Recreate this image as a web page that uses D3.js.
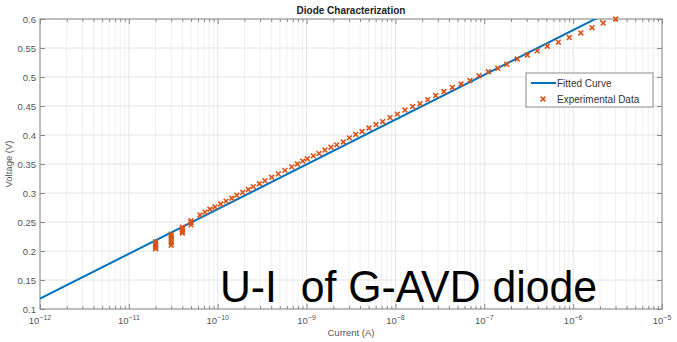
<!DOCTYPE html>
<html>
<head>
<meta charset="utf-8">
<script src="https://cdn.jsdelivr.net/npm/d3@7"></script>
<style>
  html, body { margin: 0; padding: 0; background: #fff; }
  svg { display: block; }
  text { font-family: "Liberation Sans", Arial, sans-serif; }
</style>
</head>
<body>
<svg id="chart" width="677" height="342"></svg>
<script>
// ---------- data ----------
const chartTitle = "Diode Characterization";
const xLabel = "Current (A)";
const yLabel = "Voltage (V)";
const overlayText = "U-I  of G-AVD diode";
const seriesNames = ["Fitted Curve", "Experimental Data"];

const xTickExponents = [-12, -11, -10, -9, -8, -7, -6, -5];
const yTickValues = [0.1, 0.15, 0.2, 0.25, 0.3, 0.35, 0.4, 0.45, 0.5, 0.55, 0.6];

// fitted curve (straight line on semilog axes)
const fitCurrent = [1e-12, 1e-5];
const fitVoltage = [0.118, 0.658];

// experimental data
const expCurrent = [
  2e-11, 2e-11, 2e-11, 2e-11, 2e-11,
  3e-11, 3e-11, 3e-11, 3e-11, 3e-11, 3e-11,
  4e-11, 4e-11, 4e-11, 4e-11,
  5e-11, 5e-11, 5e-11,
  6.32e-11, 7.19e-11, 8.18e-11, 9.31e-11, 1.08e-10, 1.24e-10, 1.44e-10, 1.64e-10,
  1.91e-10, 2.21e-10, 2.51e-10, 2.94e-10, 3.40e-10, 4.05e-10, 4.81e-10, 5.71e-10,
  6.81e-10, 7.87e-10,
  9.04e-10, 1.02e-9, 1.19e-9, 1.38e-9, 1.61e-9, 1.88e-9, 2.18e-9, 2.59e-9, 3.03e-9,
  3.57e-9, 4.21e-9, 5.04e-9, 6.04e-9, 7.19e-9, 8.69e-9, 1.05e-8, 1.28e-8,
  1.56e-8, 1.89e-8, 2.31e-8, 2.84e-8, 3.52e-8, 4.37e-8, 5.47e-8, 6.90e-8, 8.71e-8,
  1.11e-7, 1.42e-7, 1.79e-7, 2.35e-7, 3.05e-7, 3.94e-7, 5.12e-7, 6.81e-7, 9.04e-7,
  1.22e-6, 1.63e-6, 2.18e-6, 3.01e-6
];
const expVoltage = [
  0.204, 0.207, 0.210, 0.213, 0.216,
  0.210, 0.214, 0.218, 0.222, 0.226, 0.229,
  0.231, 0.234, 0.238, 0.241,
  0.245, 0.249, 0.252,
  0.262, 0.267, 0.272, 0.276, 0.281, 0.286, 0.291, 0.296,
  0.301, 0.306, 0.311, 0.316, 0.321, 0.327, 0.333, 0.339,
  0.345, 0.350,
  0.355, 0.359, 0.364, 0.368, 0.374, 0.379, 0.383, 0.388, 0.395,
  0.401, 0.406, 0.412, 0.418, 0.423, 0.430, 0.436, 0.443,
  0.449, 0.454, 0.461, 0.468, 0.475, 0.482, 0.488, 0.494, 0.502,
  0.509, 0.515, 0.522, 0.531, 0.538, 0.545, 0.553, 0.560, 0.568,
  0.576, 0.585, 0.593, 0.600
];

// ---------- layout ----------
const W = 677, H = 342;
const plot = { left: 40, right: 662, top: 19, bottom: 309 };
const blue = "#0072BD", orange = "#D95319";
const axisColor = "#8a8a8a", tickTextColor = "#555", gridColor = "#e4e4e4";

const svg = d3.select("#chart");

const x = d3.scaleLog()
  .domain([Math.pow(10, xTickExponents[0]), Math.pow(10, xTickExponents[xTickExponents.length - 1])])
  .range([plot.left, plot.right]);
const y = d3.scaleLinear()
  .domain([yTickValues[0], yTickValues[yTickValues.length - 1]])
  .range([plot.bottom, plot.top]);

svg.append("defs").append("clipPath").attr("id", "clip")
  .append("rect")
  .attr("x", plot.left).attr("y", plot.top)
  .attr("width", plot.right - plot.left).attr("height", plot.bottom - plot.top);

// minor tick values (2..9 per decade)
const minorVals = [];
for (let i = 0; i < xTickExponents.length - 1; i++) {
  for (let m = 2; m <= 9; m++) minorVals.push(m * Math.pow(10, xTickExponents[i]));
}
const majorVals = xTickExponents.map(e => Math.pow(10, e));

// ---------- grid ----------
const grid = svg.append("g");
grid.selectAll("line.vminor").data(minorVals).join("line")
  .attr("x1", d => x(d)).attr("x2", d => x(d))
  .attr("y1", plot.top).attr("y2", plot.bottom)
  .attr("stroke", "#efefef").attr("stroke-width", 1);
grid.selectAll("line.vmajor").data(majorVals).join("line")
  .attr("x1", d => x(d)).attr("x2", d => x(d))
  .attr("y1", plot.top).attr("y2", plot.bottom)
  .attr("stroke", gridColor).attr("stroke-width", 1);
grid.selectAll("line.h").data(yTickValues).join("line")
  .attr("x1", plot.left).attr("x2", plot.right)
  .attr("y1", d => y(d)).attr("y2", d => y(d))
  .attr("stroke", gridColor).attr("stroke-width", 1);

// ---------- axes (ticks inside, MATLAB style) ----------
const tickFmtX = () => "";
function styleAxis(g) {
  g.select(".domain").remove();
  g.selectAll(".tick line").attr("stroke", axisColor);
}
// bottom major
svg.append("g").attr("transform", `translate(0,${plot.bottom})`)
  .call(d3.axisBottom(x).tickValues(majorVals).tickSize(-5).tickFormat(tickFmtX))
  .call(styleAxis);
svg.append("g").attr("transform", `translate(0,${plot.bottom})`)
  .call(d3.axisBottom(x).tickValues(minorVals).tickSize(-3).tickFormat(tickFmtX))
  .call(styleAxis);
// top
svg.append("g").attr("transform", `translate(0,${plot.top})`)
  .call(d3.axisTop(x).tickValues(majorVals).tickSize(-5).tickFormat(tickFmtX))
  .call(styleAxis);
svg.append("g").attr("transform", `translate(0,${plot.top})`)
  .call(d3.axisTop(x).tickValues(minorVals).tickSize(-3).tickFormat(tickFmtX))
  .call(styleAxis);
// left
const yLeft = svg.append("g").attr("transform", `translate(${plot.left},0)`)
  .call(d3.axisLeft(y).tickValues(yTickValues).tickSize(-5).tickPadding(4)
    .tickFormat(d => d3.format("~g")(d)))
  .call(styleAxis);
yLeft.selectAll(".tick text")
  .attr("fill", tickTextColor).attr("font-size", 9.5)
  .attr("font-family", "Liberation Sans, Arial, sans-serif");
// right
svg.append("g").attr("transform", `translate(${plot.right},0)`)
  .call(d3.axisRight(y).tickValues(yTickValues).tickSize(-5).tickFormat(() => ""))
  .call(styleAxis);

// x tick labels with superscripts
const xl = svg.append("g");
xTickExponents.forEach(e => {
  const t = xl.append("text")
    .attr("x", x(Math.pow(10, e))).attr("y", 324)
    .attr("text-anchor", "middle")
    .attr("fill", tickTextColor).attr("font-size", 9.5);
  t.append("tspan").text("10");
  t.append("tspan").attr("dy", -4).attr("font-size", 7).text(String(e).replace("-", "\u2212"));
});

// box
svg.append("rect")
  .attr("x", plot.left).attr("y", plot.top)
  .attr("width", plot.right - plot.left).attr("height", plot.bottom - plot.top)
  .attr("fill", "none").attr("stroke", axisColor).attr("stroke-width", 1);

// ---------- series ----------
const fitData = fitCurrent.map((c, i) => [c, fitVoltage[i]]);
svg.append("path")
  .attr("clip-path", "url(#clip)")
  .datum(fitData)
  .attr("d", d3.line().x(d => x(d[0])).y(d => y(d[1])))
  .attr("fill", "none").attr("stroke", blue).attr("stroke-width", 2);

const expData = expCurrent.map((c, i) => [c, expVoltage[i]]);
const ms = 2.4;
const marks = svg.append("g").attr("stroke", orange).attr("stroke-width", 1.6);
marks.selectAll("path").data(expData).join("path")
  .attr("d", d => {
    const cx = x(d[0]), cy = y(d[1]);
    return `M${cx - ms},${cy - ms}L${cx + ms},${cy + ms}M${cx - ms},${cy + ms}L${cx + ms},${cy - ms}`;
  });

// ---------- legend ----------
const lg = svg.append("g");
lg.append("rect").attr("x", 526).attr("y", 73).attr("width", 127).attr("height", 34)
  .attr("fill", "#fff").attr("stroke", axisColor).attr("stroke-width", 1);
lg.append("line").attr("x1", 531).attr("x2", 556).attr("y1", 83).attr("y2", 83)
  .attr("stroke", blue).attr("stroke-width", 2);
lg.append("text").attr("x", 557).attr("y", 87).attr("font-size", 10).attr("fill", "#333").text(seriesNames[0]);
lg.append("path")
  .attr("d", `M${543 - ms},${99 - ms}L${543 + ms},${99 + ms}M${543 - ms},${99 + ms}L${543 + ms},${99 - ms}`)
  .attr("stroke", orange).attr("stroke-width", 1.6);
lg.append("text").attr("x", 557).attr("y", 103).attr("font-size", 10).attr("fill", "#333").text(seriesNames[1]);

// ---------- titles ----------
svg.append("text").attr("x", (plot.left + plot.right) / 2).attr("y", 14)
  .attr("text-anchor", "middle").attr("font-weight", "bold").attr("font-size", 10)
  .attr("fill", "#222").text(chartTitle);
svg.append("text").attr("x", (plot.left + plot.right) / 2).attr("y", 336)
  .attr("text-anchor", "middle").attr("font-size", 9.5).attr("fill", tickTextColor).text(xLabel);
svg.append("text")
  .attr("transform", `translate(12,${(plot.top + plot.bottom) / 2}) rotate(-90)`)
  .attr("text-anchor", "middle").attr("font-size", 9.5).attr("fill", tickTextColor).text(yLabel);

// ---------- overlay caption ----------
svg.append("text")
  .attr("x", 220).attr("y", 302)
  .attr("xml:space", "preserve")
  .style("white-space", "pre")
  .attr("font-family", "Open Sans, Noto Sans, sans-serif")
  .attr("font-size", 44)
  .attr("fill", "#000")
  .attr("textLength", 377).attr("lengthAdjust", "spacingAndGlyphs")
  .text(overlayText);
</script>
</body>
</html>
